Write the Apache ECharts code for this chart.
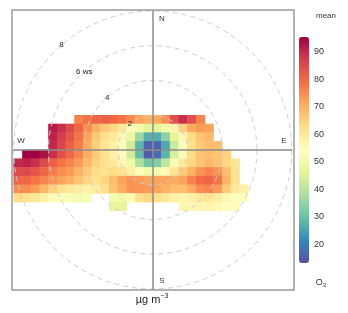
<!DOCTYPE html>
<html>
<head>
<meta charset="utf-8">
<script src="https://cdn.jsdelivr.net/npm/echarts@6/dist/echarts.min.js"></script>
<style>
  html, body { margin: 0; padding: 0; background: #fff; }
  #chart { width: 348px; height: 313px; }
</style>
</head>
<body>
<div id="chart"></div>
<script>
// wind components (ws units) of the cell centres
const wsX = [-7.75, -7.25, -6.75, -6.25, -5.75, -5.25, -4.75, -4.25, -3.75, -3.25, -2.75, -2.25, -1.75, -1.25,
  -0.75, -0.25, 0.25, 0.75, 1.25, 1.75, 2.25, 2.75, 3.25, 3.75, 4.25, 4.75, 5.25];
const wsY = [1.75, 1.25, 0.75, 0.25, -0.25, -0.75, -1.25, -1.75, -2.25, -2.75, -3.25];

// mean O3 per cell, one array per row (north to south), _ = no data
const _ = null;
const o3_y175 = [_, _, _, _, _, _, _, 76, 78, 80, 81, 80, 78, 75, 72, 70, 71, 75, 84, 89, 84, 76, _, _, _, _, _];
const o3_y125 = [_, _, _, _, 92, 89, 85, 80, 75, 70, 66, 64, 60, 55, 50, 46, 46, 50, 57, 65, 71, 73, 72, _, _, _, _];
const o3_y075 = [_, _, _, _, 91, 87, 83, 78, 72, 66, 62, 60, 56, 48, 36, 27, 27, 34, 46, 56, 63, 67, 69, _, _, _, _];
const o3_y025 = [_, _, _, _, 90, 86, 81, 77, 71, 65, 61, 58, 53, 43, 28, 16, 16, 26, 42, 54, 62, 66, 68, 68, _, _, _];
const o3_m025 = [_, 95, 95, 93, 89, 84, 80, 76, 71, 66, 62, 58, 53, 43, 29, 15, 17, 28, 44, 55, 63, 67, 68, 67, 65, _, _];
const o3_m075 = [90, 91, 89, 85, 81, 78, 76, 73, 69, 65, 62, 60, 56, 49, 39, 31, 33, 41, 52, 60, 64, 67, 69, 67, 64, 61, _];
const o3_m125 = [85, 85, 83, 80, 77, 75, 73, 70, 66, 63, 62, 63, 62, 58, 53, 50, 51, 55, 61, 66, 70, 74, 76, 74, 68, 62, _];
const o3_m175 = [80, 80, 78, 76, 74, 72, 70, 67, 64, 62, 64, 68, 72, 74, 73, 72, 72, 72, 71, 72, 76, 79, 80, 78, 70, 62, _];
const o3_m225 = [75, 75, 73, 69, 65, 62, 60, 59, 58, 59, 62, 67, 71, 74, 74, 73, 72, 70, 68, 68, 71, 75, 76, 73, 66, 60, 58];
const o3_m275 = [63, 62, 60, 58, 55, 53, 52, 51, 52, _, _, 50, 49, 56, 62, 64, 62, 60, 58, 57, 58, 60, 61, 59, 56, 55, 54];
const o3_m325 = [_, _, _, _, _, _, _, _, _, _, _, 47, 46, _, _, _, _, _, _, 56, 56, 57, 57, 56, 54, 53, _];

const rings = [2, 4, 6, 8];
const colourTicks = [20, 30, 40, 50, 60, 70, 80, 90];
const o3Min = 13.2, o3Max = 95.3;
const spectral = ['#5E4FA2', '#3288BD', '#66C2A5', '#ABDDA4', '#E6F598', '#FFFFBF',
  '#FEE08B', '#FDAE61', '#F46D43', '#D53E4F', '#9E0142'];

const rows = [o3_y175, o3_y125, o3_y075, o3_y025, o3_m025, o3_m075, o3_m125, o3_m175, o3_m225, o3_m275, o3_m325];
const cells = [];
rows.forEach((row, j) => {
  row.forEach((v, i) => {
    if (v != null) cells.push([i, j, v]);
  });
});

// layout: centre of the polar frame and pixels per ws unit
const cx = 152.7, cy = 150, R = 139, unit = R / 8;
const font = 'Liberation Sans, Arial, sans-serif';

const chart = echarts.init(document.getElementById('chart'));
const option = {
  animation: false,
  textStyle: { fontFamily: font },
  grid: [
    // heatmap cells
    { left: cx - 8 * unit, top: cy - 2 * unit, width: 27 * unit / 2, height: 11 * unit / 2 },
    // N-S / E-W cross
    { left: cx - R, top: cy - R, width: 2 * R, height: 2 * R },
    // colour key axis
    { left: 299, top: 37, width: 10, height: 226 }
  ],
  xAxis: [
    { gridIndex: 0, type: 'category', data: wsX, show: false },
    { gridIndex: 1, type: 'value', min: -8, max: 8, z: 10,
      axisLine: { show: true, onZero: true, lineStyle: { color: '#8c8c8c', width: 1.5 } },
      axisTick: { show: false }, axisLabel: { show: false }, splitLine: { show: false } },
    { gridIndex: 2, type: 'value', show: false }
  ],
  yAxis: [
    { gridIndex: 0, type: 'category', data: wsY, inverse: true, show: false },
    { gridIndex: 1, type: 'value', min: -8, max: 8, z: 10,
      axisLine: { show: true, onZero: true, lineStyle: { color: '#8c8c8c', width: 1.5 } },
      axisTick: { show: false }, axisLabel: { show: false }, splitLine: { show: false } },
    { gridIndex: 2, type: 'value', min: o3Min, max: o3Max, position: 'right',
      axisLine: { show: false },
      axisTick: { show: true, length: 3, customValues: colourTicks, lineStyle: { color: '#444' } },
      axisLabel: { customValues: colourTicks, margin: 5, fontSize: 9, color: '#333' },
      splitLine: { show: false } }
  ],
  polar: { center: [cx, cy], radius: R },
  angleAxis: { type: 'value', min: 0, max: 360, startAngle: 131, show: false },
  radiusAxis: {
    type: 'value', min: 0, max: 8, interval: 2, z: 10,
    axisLine: { show: false }, axisTick: { show: false },
    axisLabel: {
      fontSize: 8, color: '#222', margin: 0, align: 'center', verticalAlign: 'middle',
      formatter: v => (v === 0 ? '' : v === 6 ? '6 ws' : String(v))
    },
    splitLine: { show: true, lineStyle: { color: '#cbcbd3', type: [5, 4], width: 1 } }
  },
  visualMap: {
    type: 'continuous', min: o3Min, max: o3Max, seriesIndex: 0,
    calculable: false, left: 299, top: 37, itemWidth: 10, itemHeight: 226,
    padding: 0, text: null, inRange: { color: spectral }
  },
  series: [
    { type: 'heatmap', xAxisIndex: 0, yAxisIndex: 0, data: cells, progressive: 0 }
  ],
  graphic: [
    { type: 'rect', shape: { x: 12, y: 10, width: 282, height: 280 },
      style: { fill: null, stroke: '#9a9a9a', lineWidth: 1.5 }, z: 20 },
    { type: 'text', x: 162, y: 19, style: { text: 'N', font: '8px ' + font, fill: '#333', align: 'center', verticalAlign: 'middle' } },
    { type: 'text', x: 162, y: 281, style: { text: 'S', font: '8px ' + font, fill: '#333', align: 'center', verticalAlign: 'middle' } },
    { type: 'text', x: 21, y: 141, style: { text: 'W', font: '8px ' + font, fill: '#333', align: 'center', verticalAlign: 'middle' } },
    { type: 'text', x: 284, y: 141, style: { text: 'E', font: '8px ' + font, fill: '#333', align: 'center', verticalAlign: 'middle' } },
    { type: 'text', x: 326, y: 16, style: { text: 'mean', font: '8px ' + font, fill: '#333', align: 'center', verticalAlign: 'middle' } },
    { type: 'text', x: 321, y: 283, style: {
        text: 'O{s|3}', font: '9px ' + font, fill: '#333', align: 'center', verticalAlign: 'middle',
        rich: { s: { fontSize: 6, verticalAlign: 'bottom', padding: [5, 0, 0, 0] } } } },
    { type: 'text', x: 152, y: 300, style: {
        text: 'µg m{u|−3}', font: '11px ' + font, fill: '#222', align: 'center', verticalAlign: 'middle',
        rich: { u: { fontSize: 7, padding: [0, 0, 7, 0] } } } }
  ]
};
chart.setOption(option);
</script>
</body>
</html>
